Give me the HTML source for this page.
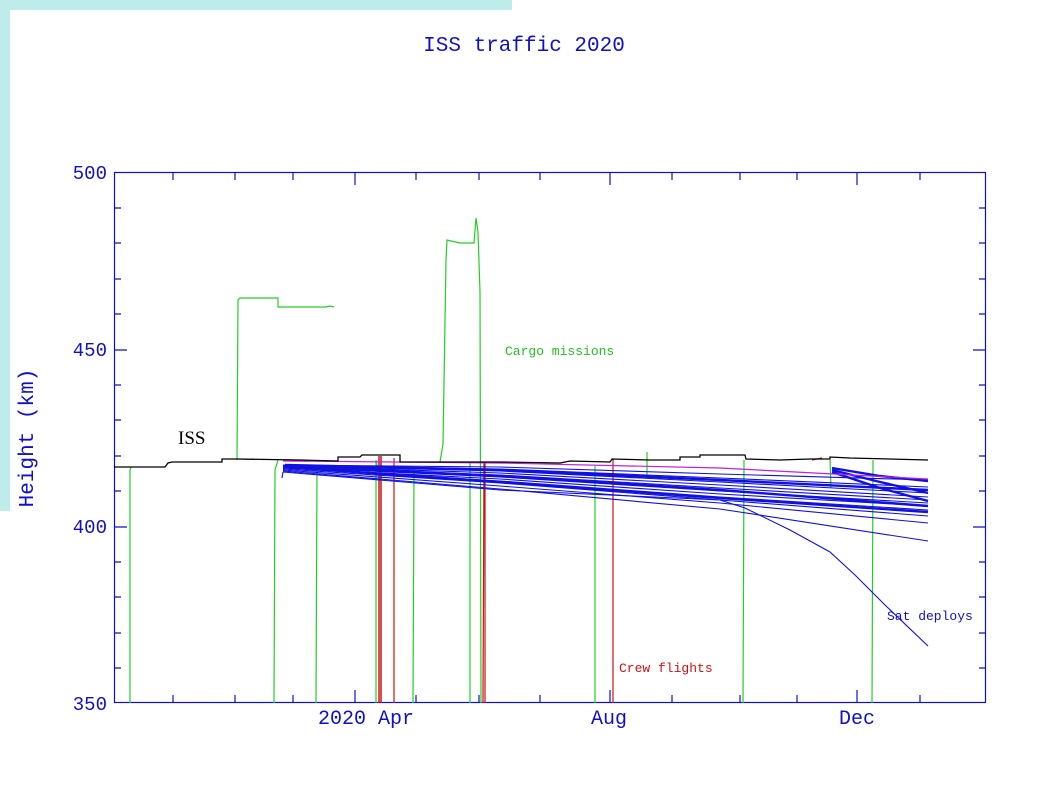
<!DOCTYPE html>
<html><head><meta charset="utf-8"><style>
html,body{margin:0;padding:0;background:#fff;}
svg{display:block;}
text{font-family:"Liberation Mono",monospace;}
</style></head><body>
<svg width="1046" height="790" viewBox="0 0 1046 790" xmlns="http://www.w3.org/2000/svg">
<rect x="0" y="0" width="512" height="10" fill="#bdecea"/>
<rect x="0" y="0" width="10" height="511" fill="#bdecea"/>
<text x="524" y="51" font-size="21" fill="#1010c8" text-anchor="middle">ISS traffic 2020</text>
<text transform="translate(33,438) rotate(-90)" font-size="21" fill="#1010c8" text-anchor="middle">Height (km)</text>
<g fill="#1010c8" font-size="19" text-anchor="end">
<text x="107" y="179">500</text><text x="107" y="356">450</text><text x="107" y="533">400</text><text x="107" y="710">350</text>
</g>
<g fill="#1010c8" font-size="20" text-anchor="middle">
<text x="366" y="724">2020 Apr</text><text x="609" y="724">Aug</text><text x="857" y="724">Dec</text>
</g>
<rect x="114.5" y="172.5" width="871" height="530" fill="none" stroke="#1010c8" stroke-width="1.2"/>
<g stroke="#1010c8" stroke-width="1.2">
<path d="M114 208h7M114 243h7M114 279h7M114 314h7M114 350h13M114 385h7M114 420h7M114 456h7M114 491h7M114 527h13M114 562h7M114 597h7M114 633h7M114 668h7"/>
<path d="M986 208h-7M986 243h-7M986 279h-7M986 314h-7M986 350h-13M986 385h-7M986 420h-7M986 456h-7M986 491h-7M986 527h-13M986 562h-7M986 597h-7M986 633h-7M986 668h-7"/>
<path d="M173 172v8M235 172v8M293 172v8M355 172v13M416 172v8M479 172v8M540 172v8M610 172v13M672 172v8M740 172v8M797 172v8M857 172v13M920 172v8"/>
<path d="M173 703v-8M235 703v-8M293 703v-8M355 703v-13M416 703v-8M479 703v-8M540 703v-8M610 703v-13M672 703v-8M740 703v-8M797 703v-8M857 703v-13M920 703v-8"/>
</g>
<g fill="none" stroke="#22d022" stroke-width="1.2">
<path d="M130 703 L130 470 L131 467"/>
<path d="M237 460 L238 300 L240 298 L278 298 L278 307 L326 307 L330 306 L334 307"/>
<path d="M274 703 L275 470 L278 460"/>
<path d="M316 703 L317 467"/>
<path d="M376 703 L376 460 L378 472"/>
<path d="M413 703 L414 467"/>
<path d="M470 703 L470 462"/>
<path d="M440 462 L443 444 L446 260 L447 240 L460 243 L474 243 L476 218 L478 232 L480 292 L481 703"/>
<path d="M595 703 L595 466"/>
<path d="M647 452 L647 478"/>
<path d="M743 703 L744 460"/>
<path d="M830 460 L831 488"/>
<path d="M872 703 L873 460"/>
</g>
<g fill="none" stroke="#d01010">
<path d="M379 703 L379 456 M381 703 L381 456" stroke-width="1.5"/>
<path d="M394 703 L394 458" stroke-width="1.2"/>
<path d="M483 703 L484 462 M485 703 L485 462" stroke-width="1.2"/>
<path d="M613 703 L613 459" stroke-width="1.2"/>
<path d="M812 460 L822 458" stroke-width="1.2"/>
</g>
<g fill="none" stroke="#1010e0" stroke-width="1.1">
<path d="M283 465 L500 467 L720 474 L928 480"/>
<path d="M283 465 L500 469 L720 478 L928 487"/>
<path d="M283 466 L500 471 L720 482 L928 493"/>
<path d="M283 466 L500 473 L720 485 L928 497"/>
<path d="M283 467 L500 475 L720 488 L928 500"/>
<path d="M283 467 L500 477 L720 491 L928 503"/>
<path d="M283 468 L500 479 L720 494 L928 506"/>
<path d="M283 468 L500 481 L720 497 L928 510"/>
<path d="M283 469 L500 483 L720 500 L928 516"/>
<path d="M283 470 L500 486 L720 503 L928 523"/>
<path d="M283 471 L500 489 L720 509 L928 541"/>
<path d="M283 472 L500 490 L720 500 L745 508 L790 530 L830 552 L855 575 L885 605 L928 646"/>
<path d="M283 472 L282 478"/>
</g>
<g fill="none" stroke="#1010e0" stroke-width="2.4">
<path d="M285 465 L500 470 L720 480 L928 490"/>
<path d="M285 466 L500 476 L720 490 L928 506"/>
<path d="M285 467 L500 482 L720 498 L928 512"/>
<path d="M832 468 L880 476 L928 481"/>
<path d="M832 470 L880 482 L928 493"/>
<path d="M832 472 L880 488 L928 501"/>
</g>
<path d="M283 461 L500 463 L720 468 L928 479" fill="none" stroke="#c020e0" stroke-width="1.2"/>
<path d="M114 467 L165 467 L168 463 L172 462 L222 462 L222 459 L236 459 L300 460 L338 461 L338 457 L360 457 L362 455 L400 455 L400 462 L500 462 L560 463 L570 461 L610 462 L612 459 L650 460 L680 460 L680 457 L700 457 L700 455 L745 455 L746 459 L780 460 L810 459 L830 459 L830 457 L850 458 L928 460" fill="none" stroke="#000" stroke-width="1.3"/>
<text x="178" y="444" font-size="19" fill="#000" style="font-family:'Liberation Serif',serif">ISS</text>
<g font-size="13">
<text x="505" y="355" fill="#22c022">Cargo missions</text>
<text x="619" y="672" fill="#d01010">Crew flights</text>
<text x="887" y="620" fill="#1010c8">Sat deploys</text>
</g>
</svg>
</body></html>
